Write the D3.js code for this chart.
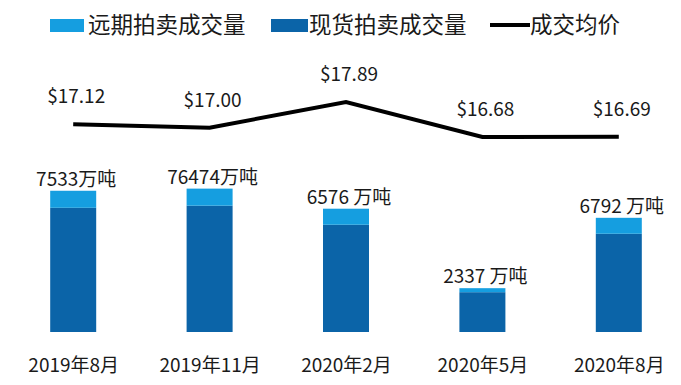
<!DOCTYPE html>
<html>
<head>
<meta charset="utf-8">
<script src="https://cdn.jsdelivr.net/npm/d3@7"></script>
<style>
  body { margin: 0; background: #fff; }
  text { font-family: "Noto Sans CJK SC", "Noto Sans", sans-serif; fill: #1a1a1a; }
</style>
</head>
<body>
<div id="chart"></div>
<script>
// data
var months = ["2019年8月", "2019年11月", "2020年2月", "2020年5月", "2020年8月"];
var spotVolume = [6625, 6737, 5721, 2123, 5240];     // 现货拍卖成交量 (万吨)
var forwardVolume = [908, 910, 855, 214, 850];      // 远期拍卖成交量 (万吨)
var avgPrice = [17.12, 17.00, 17.89, 16.68, 16.69]; // 成交均价 ($)
var volumeLabels = ["7533万吨", "76474万吨", "6576 万吨", "2337 万吨", "6792 万吨"];
var priceLabels = ["$17.12", "$17.00", "$17.89", "$16.68", "$16.69"];

var lightBlue = "#159ee0",
    darkBlue = "#0b64a8";

var width = 681, height = 385;

var svg = d3.select("#chart")
  .append("svg")
    .attr("width", width)
    .attr("height", height);

// x positions of the categories
var x = d3.scalePoint()
  .domain(months)
  .range([5, 687])
  .padding(0.5);
var barWidth = 46;

// volume scale
var y = d3.scaleLinear()
  .domain([0, 8000])
  .range([332, 182]);

// price scale
var yp = d3.scaleLinear()
  .domain([15, 19])
  .range([185.5, 69.9]);

var data = months.map(function (m, i) {
  return { month: m, spot: spotVolume[i], forward: forwardVolume[i], price: avgPrice[i],
           vlabel: volumeLabels[i], plabel: priceLabels[i] };
});

var stack = d3.stack().keys(["spot", "forward"]);
var series = stack(data);
var colours = { spot: darkBlue, forward: lightBlue };

// Add bars
svg.append("g")
  .selectAll("g")
  .data(series)
  .enter()
  .append("g")
    .style("fill", function (d) { return colours[d.key]; })
  .selectAll("rect")
  .data(function (d) { return d; })
  .enter()
  .append("rect")
    .attr("x", function (d) { return x(d.data.month) - barWidth / 2; })
    .attr("y", function (d) { return y(d[1]); })
    .attr("width", barWidth)
    .attr("height", function (d) { return y(d[0]) - y(d[1]); });

// volume labels
svg.append("g")
  .selectAll("text")
  .data(data)
  .enter()
  .append("text")
    .attr("x", function (d) { return x(d.month) + 3; })
    .attr("y", function (d) { return y(d.spot + d.forward) - 5; })
    .attr("text-anchor", "middle")
    .style("font-size", "19px")
    .text(function (d) { return d.vlabel; });

// price line
var line = d3.line()
  .x(function (d) { return x(d.month); })
  .y(function (d) { return yp(d.price); });

svg.append("path")
  .datum(data)
  .attr("d", line)
  .attr("fill", "none")
  .attr("stroke", "#000")
  .attr("stroke-width", 4)
  .attr("stroke-linejoin", "miter");

svg.append("g")
  .selectAll("text")
  .data(data)
  .enter()
  .append("text")
    .attr("x", function (d) { return x(d.month) + 3; })
    .attr("y", function (d) { return yp(d.price) - 21; })
    .attr("text-anchor", "middle")
    .style("font-size", "19px")
    .text(function (d) { return d.plabel; });

// x axis labels
var xAxis = svg.append("g")
  .attr("transform", "translate(0,332)")
  .call(d3.axisBottom(x).tickSize(0).tickPadding(27));
xAxis.select(".domain").remove();
xAxis.selectAll("text")
  .style("font-size", "19px")
  .style("font-family", "\"Noto Sans CJK SC\", sans-serif")
  .attr("fill", "#1a1a1a");

// legend
var legend = svg.append("g");
legend.append("rect").attr("x", 50).attr("y", 19).attr("width", 34).attr("height", 13).style("fill", lightBlue);
legend.append("text").attr("x", 88).attr("y", 33).style("font-size", "22.5px").text("远期拍卖成交量");
legend.append("rect").attr("x", 271).attr("y", 19).attr("width", 37).attr("height", 13).style("fill", darkBlue);
legend.append("text").attr("x", 309).attr("y", 33).style("font-size", "22.5px").text("现货拍卖成交量");
legend.append("line").attr("x1", 490).attr("x2", 530).attr("y1", 25).attr("y2", 25)
  .attr("stroke", "#000").attr("stroke-width", 4);
legend.append("text").attr("x", 530).attr("y", 33).style("font-size", "22.5px").text("成交均价");
</script>
</body>
</html>
